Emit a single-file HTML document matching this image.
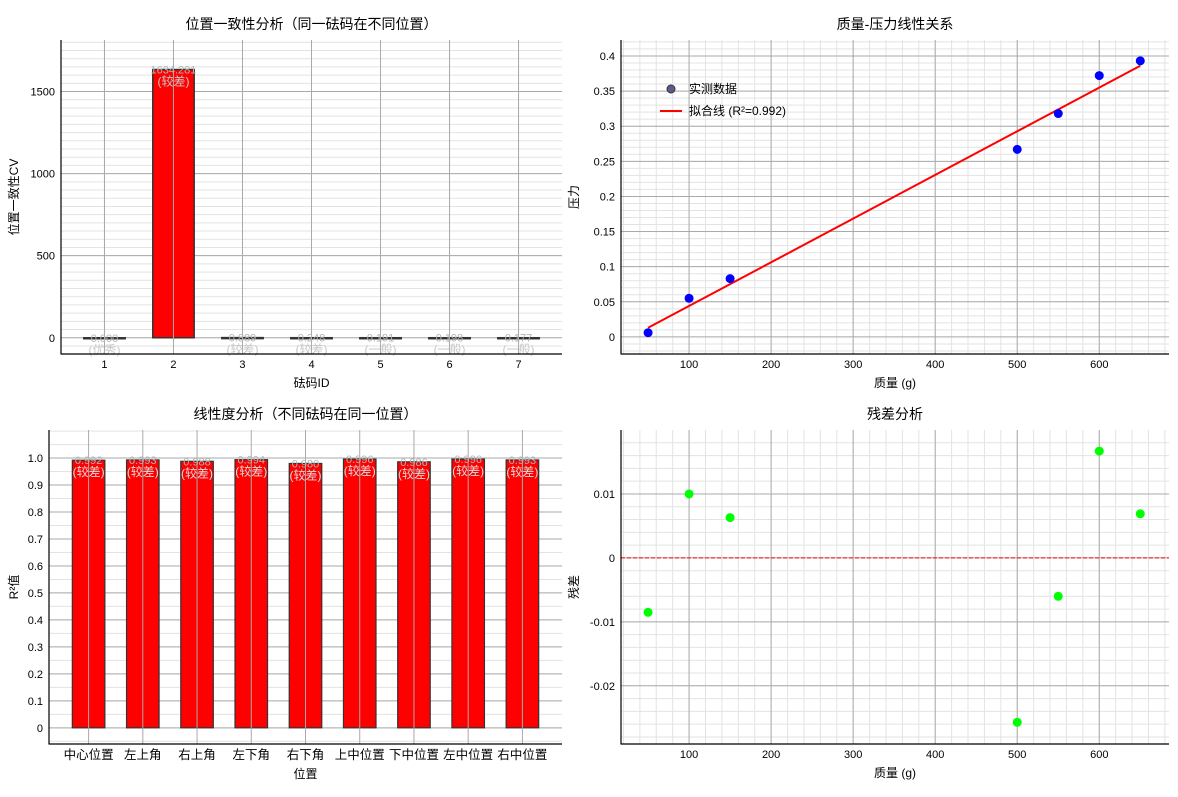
<!DOCTYPE html>
<html><head><meta charset="utf-8"><style>
body{margin:0;background:#fff;}
svg text{font-family:"Liberation Sans","Noto Sans CJK SC",sans-serif;}
</style></head><body>
<svg id="c" width="1178" height="792" xmlns="http://www.w3.org/2000/svg"></svg>
<script>
const cvIds=[1,2,3,4,5,6,7];
const cvValues=[0.000,1634.281,0.889,0.248,0.191,0.198,0.177];
const cvLabels=['(优秀)','(较差)','(较差)','(较差)','(一般)','(一般)','(一般)'];
const posNames=['中心位置','左上角','右上角','左下角','右下角','上中位置','下中位置','左中位置','右中位置'];
const r2Values=[0.992,0.993,0.988,0.994,0.980,0.996,0.986,0.996,0.993];
const r2Labels=['(较差)','(较差)','(较差)','(较差)','(较差)','(较差)','(较差)','(较差)','(较差)'];
const massVals=[50,100,150,500,550,600,650];
const forceVals=[0.006,0.055,0.083,0.267,0.318,0.372,0.393];
const fitStart=[50,0.013];
const fitEnd=[650,0.386];
const residVals=[-0.0085,0.0100,0.0063,-0.0257,-0.0060,0.0167,0.0069];
const cvTicks=[0,500,1000,1500];
const r2Ticks=[0,0.1,0.2,0.3,0.4,0.5,0.6,0.7,0.8,0.9,1.0];
const massTicks=[100,200,300,400,500,600];
const forceTicks=[0,0.05,0.1,0.15,0.2,0.25,0.3,0.35,0.4];
const residTicks=[-0.02,-0.01,0,0.01];

const svg=document.getElementById('c');
const NS='http://www.w3.org/2000/svg';
function el(tag,attrs,parent,txt){const e=document.createElementNS(NS,tag);for(const k in attrs)e.setAttribute(k,attrs[k]);if(txt!==undefined)e.textContent=txt;(parent||svg).appendChild(e);return e;}
function lin(d0,d1,p0,p1){return v=>p0+(v-d0)/(d1-d0)*(p1-p0);}
function fmt(v,d){return v.toFixed(d);}

function panel(name,L,R,T,B,xs,ys,xMajor,xMinor,yMajor,yMinor,title,xl,yl,ylx,xly){
  const g=el('g',{},svg);
  
  
  const grid=el('g',{},g);
  
  
  yMinor.forEach(v=>{const y=ys(v);if(y>T&&y<B)el('line',{x1:L,x2:R,y1:y,y2:y,stroke:'#e3e3e3','stroke-width':1},grid);});
  xMinor.forEach(v=>{const x=xs(v);if(x>L&&x<R)el('line',{x1:x,x2:x,y1:T,y2:B,stroke:'#e3e3e3','stroke-width':1},grid);});
  yMajor.forEach(v=>{const y=ys(v);el('line',{x1:L,x2:R,y1:y,y2:y,stroke:'#aaaaaa','stroke-width':1},grid);});
  xMajor.forEach(v=>{const x=xs(v);el('line',{x1:x,x2:x,y1:T,y2:B,stroke:'#aaaaaa','stroke-width':1},grid);});
  const t=el('text',{x:(L+R)/2,y:T-11,'text-anchor':'middle','font-size':14,fill:'#000'},g,title);
  
  
  const xt=el('text',{x:(L+R)/2,y:xly,'text-anchor':'middle','font-size':12},g,xl);
  
  
  const cy=(T+B)/2;
  const yt=el('text',{x:0,y:0,'text-anchor':'middle','font-size':12,transform:`translate(${ylx},${cy}) rotate(-90)`},g,yl);
  
  
  return g;
}
function axes(g,L,R,T,B){
  el('line',{x1:L,x2:L,y1:T,y2:B+0.5,stroke:'#000','stroke-width':1.2},g);
  el('line',{x1:L,x2:R,y1:B,y2:B,stroke:'#000','stroke-width':1.2},g);
}
function yTickLabels(g,ticks,ys,L,f){ticks.forEach(v=>{const t=el('text',{x:L-6,y:ys(v)+4,'text-anchor':'end','font-size':11},g,f(v));});}
function xTickLabels(g,ticks,xs,B,f){ticks.forEach(v=>{const t=el('text',{x:xs(v),y:B+14,'text-anchor':'middle','font-size':11},g,f(v));});}
function range(a,b,s){const r=[];for(let v=a;v<=b+1e-9;v+=s)r.push(+v.toFixed(6));return r;}

// Panel 1
{
const L=61,R=562,T=40,B=354;
const xs=lin(0.37,7.63,L,R), ys=lin(-99,1814,B,T);
const g=panel('cv-chart',L,R,T,B,xs,ys,cvIds,[],cvTicks,range(-50,1800,50),'位置一致性分析（同一砝码在不同位置）','砝码ID','位置一致性CV',18,387);
cvIds.forEach((id,i)=>{
  const x0=xs(id-0.3),x1=xs(id+0.3),y0=ys(0),y1=ys(cvValues[i]);
  const r=el('rect',{x:x0,y:Math.min(y0,y1),width:x1-x0,height:Math.max(Math.abs(y0-y1),1),fill:'#ff0000',stroke:'#333','stroke-width':1.5},g);
  
  
  el('line',{x1:xs(id),x2:xs(id),y1:T,y2:B,stroke:'#aaaaaa','stroke-width':1},g);
  const tv=el('text',{x:xs(id),y:y1+4,'text-anchor':'middle','font-size':11,fill:'#b4b4b4'},g,fmt(cvValues[i],3));
  
  
  const tl=el('text',{x:xs(id),y:y1+16,'text-anchor':'middle','font-size':12,fill:'#c8c8c8'},g,cvLabels[i]);
  
  
});
axes(g,L,R,T,B);
yTickLabels(g,cvTicks,ys,L,v=>String(v));
xTickLabels(g,cvIds,xs,B,v=>String(v));
}
// Panel 2
{
const L=621,R=1169,T=40,B=354;
const xs=lin(17,685,L,R), ys=lin(-0.0243,0.4227,B,T);
const g=panel('fit-chart',L,R,T,B,xs,ys,massTicks,range(20,680,20),forceTicks,range(-0.02,0.42,0.01),'质量-压力线性关系','质量 (g)','压力',578,387);
const fl=el('line',{x1:xs(fitStart[0]),y1:ys(fitStart[1]),x2:xs(fitEnd[0]),y2:ys(fitEnd[1]),stroke:'#ff0000','stroke-width':2},g);


massVals.forEach((m,i)=>{const c=el('circle',{cx:xs(m),cy:ys(forceVals[i]),r:4.5,fill:'#0000ff'},g);});
axes(g,L,R,T,B);
yTickLabels(g,forceTicks,ys,L,v=>String(v));
xTickLabels(g,massTicks,xs,B,v=>String(v));
const lg=el('g',{},g);


el('circle',{cx:671,cy:89,r:4,fill:'#5b5b8c',stroke:'#333','stroke-width':1},lg);
el('text',{x:689,y:93,'font-size':12},lg,'实测数据');
el('line',{x1:660,x2:682,y1:111,y2:111,stroke:'#ff0000','stroke-width':2},lg);
el('text',{x:689,y:115,'font-size':12},lg,'拟合线 (R²=0.992)');
}
// Panel 3
{
const L=49,R=562,T=430,B=744;
const xs=lin(-0.73,8.73,L,R), ys=lin(-0.06,1.104,B,T);
const idx=posNames.map((_,i)=>i);
const g=panel('r2-chart',L,R,T,B,xs,ys,[],[],r2Ticks,range(-0.05,1.1,0.05),'线性度分析（不同砝码在同一位置）','位置','R²值',18,778);
idx.forEach(i=>{
  const x0=xs(i-0.3),x1=xs(i+0.3),y0=ys(0),y1=ys(r2Values[i]);
  const r=el('rect',{x:x0,y:y1,width:x1-x0,height:y0-y1,fill:'#ff0000',stroke:'#333','stroke-width':1.2},g);
  
  
  el('line',{x1:xs(i),x2:xs(i),y1:T,y2:B,stroke:'#aaaaaa','stroke-width':1},g);
  const tv=el('text',{x:xs(i),y:y1+4,'text-anchor':'middle','font-size':11,fill:'#b4b4b4'},g,fmt(r2Values[i],3));
  
  
  const tl=el('text',{x:xs(i),y:y1+16,'text-anchor':'middle','font-size':12,fill:'#dcdcdc'},g,r2Labels[i]);
  
  
});
axes(g,L,R,T,B);
yTickLabels(g,r2Ticks,ys,L,v=>v===0?'0':v.toFixed(1));
idx.forEach(i=>{const t=el('text',{x:xs(i),y:B+15,'text-anchor':'middle','font-size':12.5},g,posNames[i]);});
}
// Panel 4
{
const L=621,R=1169,T=430,B=744;
const xs=lin(17,685,L,R), ys=lin(-0.0291,0.0200,B,T);
const g=panel('residual-chart',L,R,T,B,xs,ys,massTicks,range(20,680,20),residTicks,range(-0.028,0.02,0.002),'残差分析','质量 (g)','残差',578,777);
const zl=el('line',{x1:L,x2:R,y1:ys(0),y2:ys(0),stroke:'#ff0000','stroke-width':1,'stroke-dasharray':'4,2'},g);


massVals.forEach((m,i)=>{const c=el('circle',{cx:xs(m),cy:ys(residVals[i]),r:4.5,fill:'#00ff00'},g);});
axes(g,L,R,T,B);
yTickLabels(g,residTicks,ys,L,v=>v===0?'0':v.toFixed(2));
xTickLabels(g,massTicks,xs,B,v=>String(v));
}
</script>
</body></html>
